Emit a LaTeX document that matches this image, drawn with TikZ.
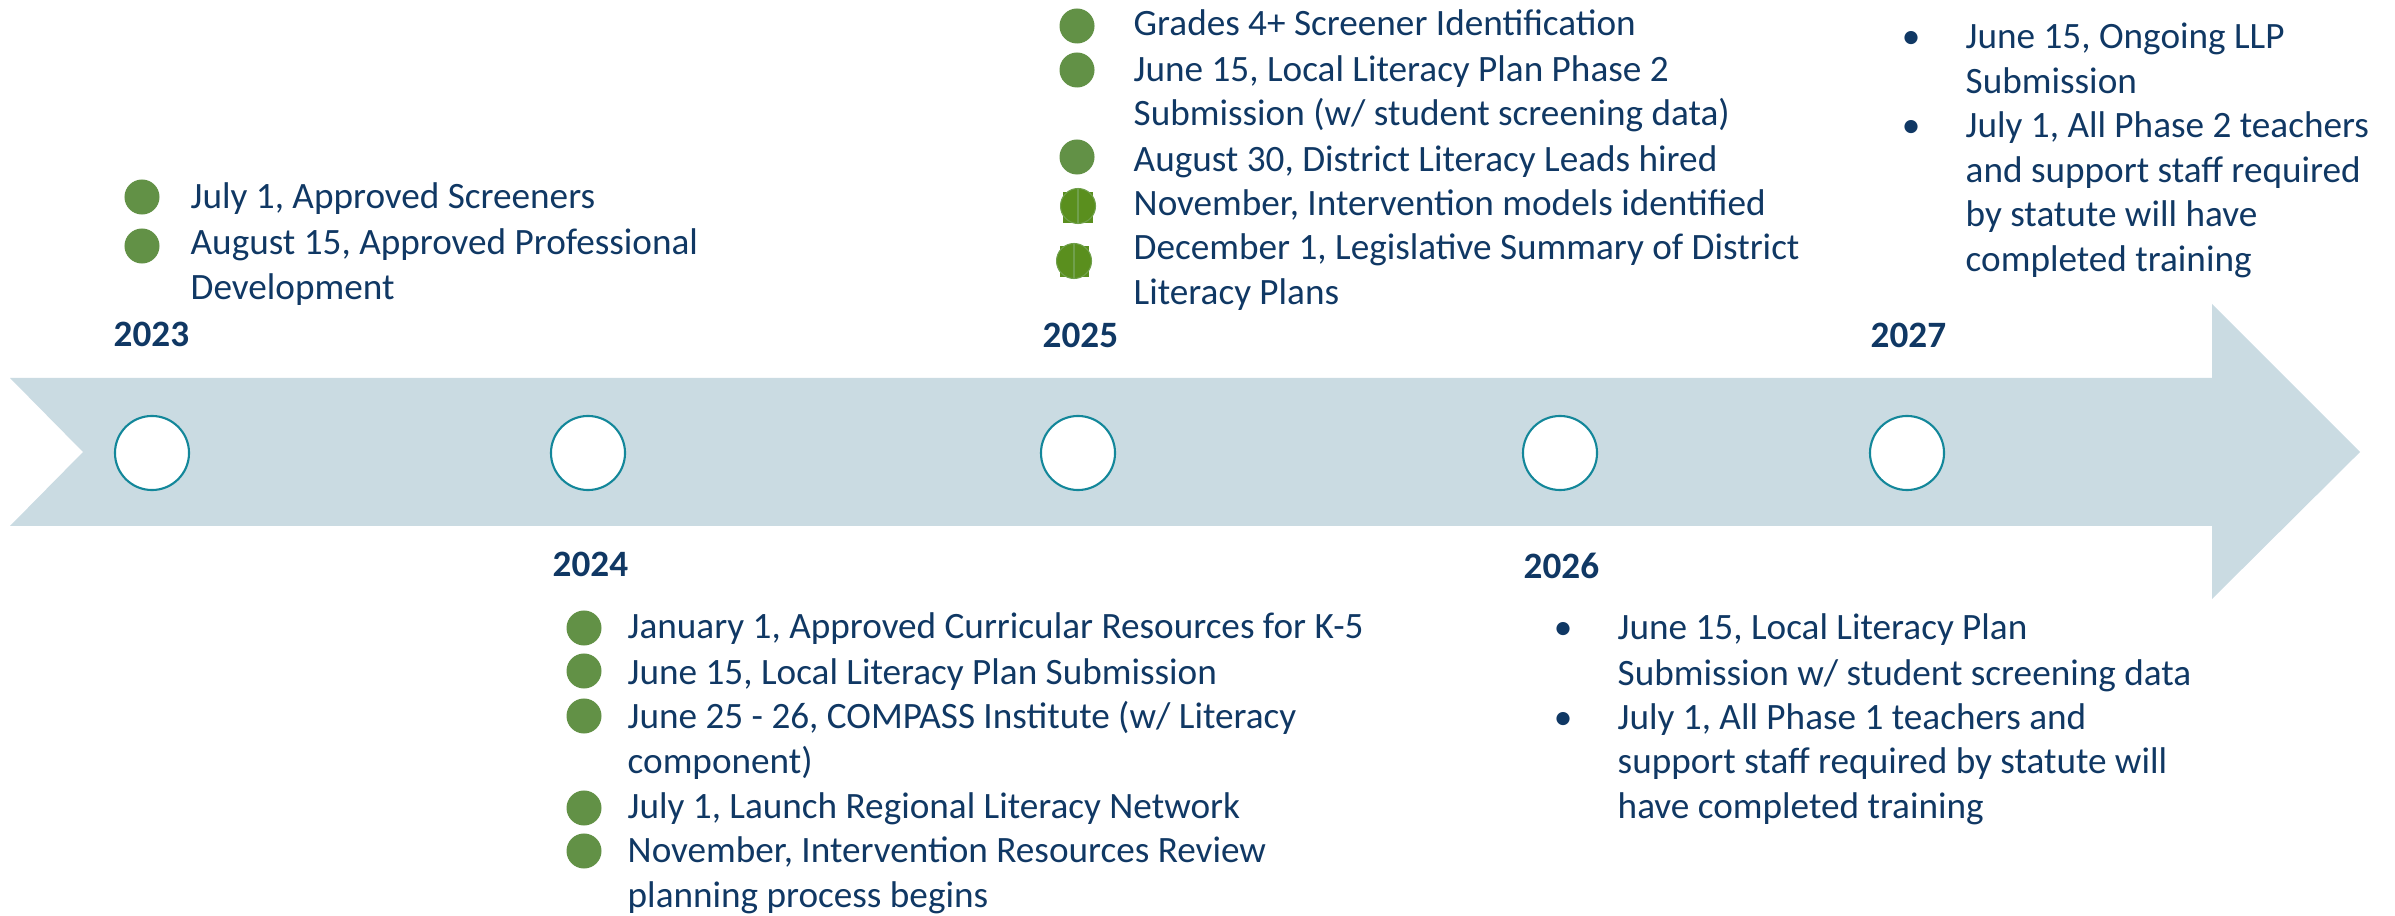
\documentclass[tikz,border=0pt]{standalone}
\usepackage{fontspec}
\setmainfont{Carlito}
\definecolor{band}{HTML}{CADBE2}
\definecolor{teal}{HTML}{13879A}
\definecolor{navy}{HTML}{103864}
\definecolor{dotgreen}{HTML}{629146}
\definecolor{sqgreen}{HTML}{5A8F1E}
\definecolor{ringgreen}{HTML}{70A04C}
\newcommand\txtsize{\fontsize{10.58}{12.8}\selectfont}
\tikzset{
  txt/.style={anchor=base west, inner sep=0pt, font=\txtsize, text=navy},
  year/.style={anchor=base west, inner sep=0pt, font=\txtsize\bfseries, text=navy},
  bul/.style={anchor=base, inner sep=0pt, font=\txtsize, text=navy},
  milestone/.style={circle, draw=teal, fill=white, line width=0.6pt, minimum size=0.74cm, inner sep=0pt},
  gdot/.style={circle, fill=dotgreen, minimum size=0.35cm, inner sep=0pt},
}
\begin{document}
\begin{tikzpicture}[x=0.01cm, y=-0.01cm]
\useasboundingbox (0,0) rectangle (2395,916);
% band arrow
\fill[band] (10,378) -- (2212,378) -- (2212,304) -- (2360,452) -- (2212,599) -- (2212,526) -- (10,526) -- (83,452) -- cycle;
% milestones
\node[milestone] (c23) at (152,453) {};
\node[milestone] (c24) at (588,453) {};
\node[milestone] (c25) at (1078,453) {};
\node[milestone] (c26) at (1560,453) {};
\node[milestone] (c27) at (1907,453) {};
% years
\node[year] (y23) at (113,347) {2023};
\node[year] (y24) at (552,577) {2024};
\node[year] (y25) at (1042,348) {2025};
\node[year] (y26) at (1523,578) {2026};
\node[year] (y27) at (1870,348) {2027};
% 2023
\node[gdot] (d23a) at (142,197) {};
\node[gdot] (d23b) at (142,246) {};
\node[txt] (t23a) at (190,209) {July 1, Approved Screeners};
\node[txt] (t23b) at (190,255) {August 15, Approved Professional};
\node[txt] (t23c) at (190,300) {Development};
% 2024
\node[gdot] (d24a) at (584,628) {};
\node[gdot] (d24b) at (584,671) {};
\node[gdot] (d24c) at (584,716) {};
\node[gdot] (d24d) at (584,808) {};
\node[gdot] (d24e) at (584,851) {};
\node[txt] (t24a) at (627,638) {January 1, Approved Curricular Resources for K-5};
\node[txt] (t24b) at (627,684) {June 15, Local Literacy Plan Submission};
\node[txt] (t24c) at (627,728) {June 25 - 26, COMPASS Institute (w/ Literacy};
\node[txt] (t24d) at (627,773) {component)};
\node[txt] (t24e) at (627,818) {July 1, Launch Regional Literacy Network};
\node[txt] (t24f) at (627,862) {November, Intervention Resources Review};
\node[txt] (t24g) at (627,907) {planning process begins};
% 2025
\node[gdot] (d25a) at (1077,26) {};
\node[gdot] (d25b) at (1077,70) {};
\node[gdot] (d25c) at (1077,157) {};
\fill[sqgreen] (1063,192) rectangle (1093,223);
\node[circle, fill=sqgreen, draw=ringgreen, line width=0.3pt, minimum size=0.35cm, inner sep=0pt] (d25d) at (1078,206) {};
\draw[ringgreen, line width=0.3pt] (d25d.north) -- (d25d.south);
\fill[sqgreen] (1060,246) rectangle (1089,277);
\node[circle, fill=sqgreen, draw=ringgreen, line width=0.3pt, minimum size=0.35cm, inner sep=0pt] (d25e) at (1074,261) {};
\draw[ringgreen, line width=0.3pt] (d25e.north) -- (d25e.south);
\node[txt] (t25a) at (1133,36) {Grades 4+ Screener Identification};
\node[txt] (t25b) at (1133,82) {June 15, Local Literacy Plan Phase 2};
\node[txt] (t25c) at (1133,126) {Submission (w/ student screening data)};
\node[txt] (t25d) at (1133,172) {August 30, District Literacy Leads hired};
\node[txt] (t25e) at (1133,216) {November, Intervention models identified};
\node[txt] (t25f) at (1133,260) {December 1, Legislative Summary of District};
\node[txt] (t25g) at (1133,305) {Literacy Plans};
% 2026
\node[bul] (b26a) at (1563,639) {•};
\node[bul] (b26b) at (1563,729) {•};
\node[txt] (t26a) at (1617,639) {June 15, Local Literacy Plan};
\node[txt] (t26b) at (1617,685) {Submission w/ student screening data};
\node[txt] (t26c) at (1617,729) {July 1, All Phase 1 teachers and};
\node[txt] (t26d) at (1617,773) {support staff required by statute will};
\node[txt] (t26e) at (1617,818) {have completed training};
% 2027
\node[bul] (b27a) at (1911,49) {•};
\node[bul] (b27b) at (1911,138) {•};
\node[txt] (t27a) at (1965,49) {June 15, Ongoing LLP};
\node[txt] (t27b) at (1965,94) {Submission};
\node[txt] (t27c) at (1965,138) {July 1, All Phase 2 teachers};
\node[txt] (t27d) at (1965,183) {and support staff required};
\node[txt] (t27e) at (1965,227) {by statute will have};
\node[txt] (t27f) at (1965,272) {completed training};
\end{tikzpicture}
\end{document}
